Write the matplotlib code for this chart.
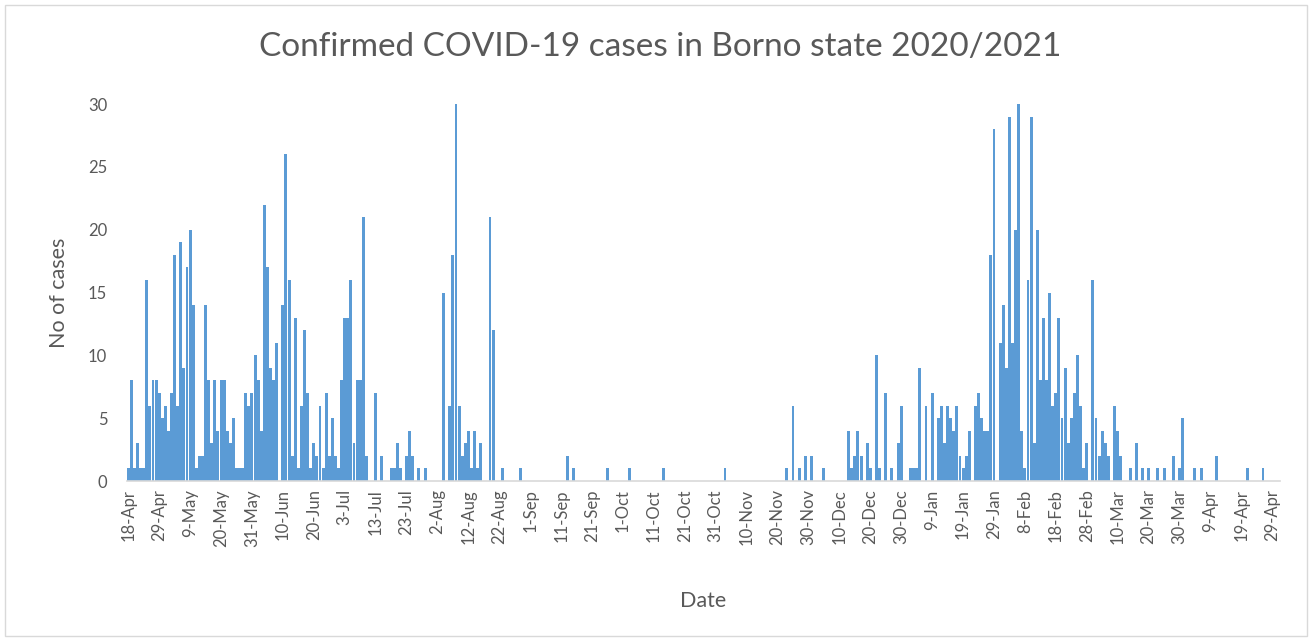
import matplotlib
matplotlib.use("Agg")
import matplotlib.pyplot as plt
from matplotlib.patches import Rectangle

plt.rcParams['font.family'] = ['Lato', 'DejaVu Sans']

# daily confirmed cases, one value per reported day (category axis)
apr_jul = [1, 8, 1, 3, 1, 1, 16, 6, 8, 8, 7, 5, 6, 4, 7, 18, 6, 19, 9, 17,
           20, 14, 1, 2, 2, 14, 8, 3, 8, 4, 8, 8, 4, 3, 5, 1, 1, 1, 7, 6,
           7, 10, 8, 4, 22, 17, 9, 8, 11, 0, 14, 26, 16, 2, 13, 1, 6, 12, 7, 1,
           3, 2, 6, 1, 7, 2, 5, 2, 1, 8, 13, 13, 16, 3, 8, 8, 21, 2, 0, 0,
           7, 0, 2, 0, 0, 1, 1, 3, 1, 0, 2, 4, 2, 0, 1, 0, 1, 0, 0, 0]
aug_nov = [0, 0, 15, 0, 6, 18, 30, 6, 2, 3, 4, 1, 4, 1, 3, 0, 0, 21, 12, 0,
           0, 1, 0, 0, 0, 0, 0, 1, 0, 0, 0, 0, 0, 0, 0, 0, 0, 0, 0, 0,
           0, 0, 2, 0, 1, 0, 0, 0, 0, 0, 0, 0, 0, 0, 0, 1, 0, 0, 0, 0,
           0, 0, 1, 0, 0, 0, 0, 0, 0, 0, 0, 0, 0, 1, 0, 0, 0, 0, 0, 0,
           0, 0, 0, 0, 0, 0, 0, 0, 0, 0, 0, 0, 0, 1, 0, 0, 0, 0, 0, 0,
           0, 0, 0, 0, 0, 0, 0, 0, 0, 0, 0, 0, 0, 1, 0, 6, 0, 1, 0, 2]
dec_apr = [0, 2, 0, 0, 0, 1, 0, 0, 0, 0, 0, 0, 0, 4, 1, 2, 4, 2, 0, 3,
           1, 0, 10, 1, 0, 7, 0, 1, 0, 3, 6, 0, 0, 1, 1, 1, 9, 0, 6, 0,
           7, 0, 5, 6, 3, 6, 5, 4, 6, 2, 1, 2, 4, 0, 6, 7, 5, 4, 4, 18,
           28, 0, 11, 14, 9, 29, 11, 20, 30, 4, 1, 16, 29, 3, 20, 8, 13, 8, 15, 6,
           7, 13, 5, 9, 3, 5, 7, 10, 6, 1, 3, 0, 16, 5, 2, 4, 3, 2, 0, 6,
           4, 2, 0, 0, 1, 0, 3, 0, 1, 0, 1, 0, 0, 1, 0, 1, 0, 0, 2, 0,
           1, 5, 0, 0, 0, 1, 0, 1, 0, 0, 0, 0, 2, 0, 0, 0, 0, 0, 0, 0,
           0, 0, 1, 0, 0, 0, 0, 1, 0, 0, 0, 0, 0]
cases = apr_jul + aug_nov + dec_apr

tick_labels = ['18-Apr', '29-Apr', '9-May', '20-May', '31-May', '10-Jun', '20-Jun',
               '3-Jul', '13-Jul', '23-Jul', '2-Aug', '12-Aug', '22-Aug', '1-Sep',
               '11-Sep', '21-Sep', '1-Oct', '11-Oct', '21-Oct', '31-Oct', '10-Nov',
               '20-Nov', '30-Nov', '10-Dec', '20-Dec', '30-Dec', '9-Jan', '19-Jan',
               '29-Jan', '8-Feb', '18-Feb', '28-Feb', '10-Mar', '20-Mar', '30-Mar',
               '9-Apr', '19-Apr', '29-Apr']

grey = '#595959'

fig = plt.figure(figsize=(13.12, 6.41), dpi=100)
ax = fig.add_axes([0.0966, 0.2496, 0.879, 0.588])

x = list(range(len(cases)))
ax.bar(x, cases, width=0.95, color='#5B9BD5', linewidth=0)

ax.set_xlim(-0.5, len(cases) - 0.5)
ax.set_ylim(0, 30)
ax.set_yticks([0, 5, 10, 15, 20, 25, 30])
ax.set_xticks(list(range(0, 10 * len(tick_labels), 10)))
ax.set_xticklabels(tick_labels, rotation=90)
ax.tick_params(axis='both', length=0, colors=grey, labelsize=12)
ax.tick_params(axis='y', pad=14)
ax.tick_params(axis='x', pad=6)

for s in ['top', 'right', 'left']:
    ax.spines[s].set_visible(False)
ax.spines['bottom'].set_color('#D9D9D9')
ax.spines['bottom'].set_linewidth(1.2)

ax.set_xlabel('Date', fontsize=15.5, color=grey, labelpad=32)
ax.set_ylabel('No of cases', fontsize=15.5, color=grey, labelpad=14)

fig.text(0.503, 0.927, 'Confirmed COVID-19 cases in Borno state 2020/2021',
         ha='center', va='center', fontsize=24, color=grey)

# outer chart border
fig.patches.append(Rectangle((0.004, 0.008), 0.992, 0.984, transform=fig.transFigure,
                             fill=False, edgecolor='#D9D9D9', linewidth=1))

fig.savefig('out.png', dpi=100)
